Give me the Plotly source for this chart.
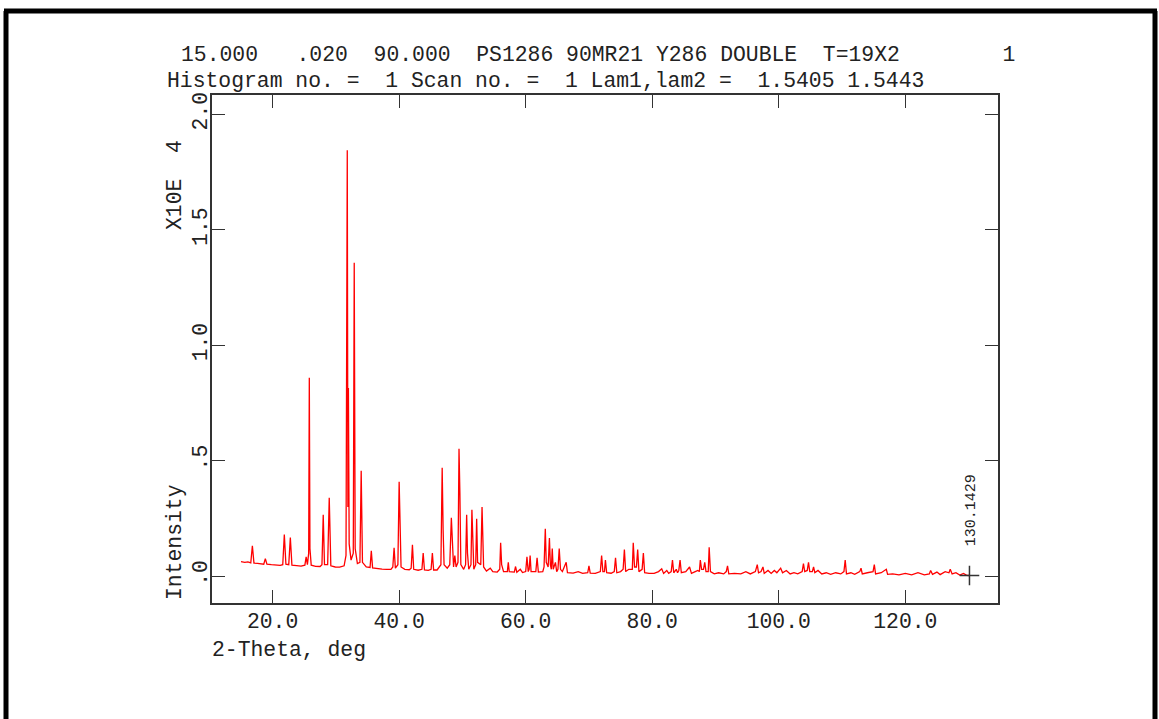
import plotly.graph_objects as go

# ---- data (intensity in units of 10^4 counts) ----
two_theta = [
    15.00, 15.6, 16.1, 16.55, 16.8, 17.05, 17.6, 18.2, 18.6, 18.85,
    19.1, 19.8, 20.5, 21.2, 21.6, 21.85, 22.1, 22.55, 22.8, 23.05,
    23.8, 24.5, 25.1, 25.3, 25.5, 25.7, 25.8, 25.9, 26.1, 26.8,
    27.5, 27.8, 28.0, 28.2, 28.7, 28.95, 29.2, 29.9, 30.6, 31.3,
    31.6, 31.8, 31.9, 31.98, 32.1, 32.4, 32.75, 32.9, 33.05, 33.4,
    33.8, 34.0, 34.2, 34.8, 35.4, 35.6, 35.8, 36.5, 37.3, 38.0,
    38.7, 39.0, 39.2, 39.4, 39.8, 40.0, 40.15, 40.3, 40.9, 41.6,
    41.9, 42.1, 42.3, 43.0, 43.6, 43.8, 44.0, 44.6, 45.05, 45.25,
    45.45, 46.0, 46.6, 46.8, 46.95, 47.1, 47.6, 48.0, 48.25, 48.4,
    48.6, 48.8, 49.0, 49.3, 49.46, 49.6, 49.75, 50.2, 50.5, 50.67,
    50.8, 51.0, 51.35, 51.5, 51.62, 51.8, 52.1, 52.25, 52.4, 52.9,
    53.1, 53.2, 53.35, 53.8, 54.4, 54.8, 55.5, 55.9, 56.04, 56.2,
    56.5, 57.1, 57.25, 57.4, 58.2, 58.4, 58.6, 59.15, 59.5, 60.0,
    60.2, 60.4, 60.55, 60.7, 60.85, 61.6, 61.8, 62.0, 62.7, 62.9,
    63.1, 63.25, 63.55, 63.75, 63.9, 64.05, 64.2, 64.35, 64.7, 64.9,
    65.1, 65.3, 65.5, 65.8, 66.4, 66.6, 67.5, 68.3, 69.0, 69.8,
    70.0, 70.2, 71.0, 71.8, 72.0, 72.2, 72.45, 72.6, 72.8, 73.5,
    74.0, 74.2, 74.4, 75.0, 75.4, 75.6, 75.8, 76.3, 76.85, 77.0,
    77.2, 77.5, 77.7, 77.9, 78.4, 78.6, 78.8, 79.5, 80.3, 81.0,
    81.5, 81.8, 82.3, 82.6, 83.0, 83.2, 83.4, 83.8, 84.0, 84.2,
    84.4, 84.6, 85.3, 85.9, 86.2, 86.8, 87.2, 87.45, 87.6, 87.8,
    88.1, 88.3, 88.5, 88.85, 89.0, 89.2, 89.8, 90.5, 91.3, 91.7,
    91.9, 92.1, 93.0, 94.0, 94.8, 95.5, 96.3, 96.6, 96.8, 97.2,
    97.5, 97.7, 98.3, 98.8, 99.3, 99.7, 100.3, 100.6, 101.2, 101.8,
    102.4, 103.0, 103.7, 103.9, 104.1, 104.5, 104.7, 104.9, 105.3, 105.5,
    105.7, 106.2, 106.8, 107.5, 108.2, 109.0, 109.8, 110.3, 110.5, 110.7,
    111.4, 112.0, 112.8, 113.0, 113.2, 114.0, 114.6, 114.9, 115.1, 115.3,
    116.2, 117.0, 117.2, 118.0, 119.0, 120.0, 121.0, 122.0, 123.0, 123.8,
    124.0, 124.3, 125.0, 125.5, 126.3, 126.9, 127.1, 127.4, 128.0, 128.6,
    129.2, 129.7, 130.14,
]
intensity = [
    0.063, 0.060, 0.062, 0.058, 0.132, 0.057, 0.056, 0.054, 0.052, 0.076,
    0.052, 0.050, 0.049, 0.047, 0.050, 0.180, 0.052, 0.050, 0.167, 0.048,
    0.046, 0.044, 0.048, 0.084, 0.050, 0.100, 0.859, 0.120, 0.048, 0.043,
    0.042, 0.050, 0.266, 0.050, 0.050, 0.340, 0.045, 0.040, 0.039, 0.045,
    0.090, 1.845, 0.300, 0.815, 0.140, 0.070, 0.100, 1.357, 0.120, 0.055,
    0.060, 0.457, 0.060, 0.040, 0.038, 0.110, 0.036, 0.033, 0.031, 0.030,
    0.030, 0.040, 0.123, 0.035, 0.050, 0.409, 0.150, 0.040, 0.030, 0.028,
    0.035, 0.136, 0.030, 0.026, 0.030, 0.100, 0.027, 0.025, 0.030, 0.100,
    0.027, 0.027, 0.050, 0.470, 0.200, 0.050, 0.035, 0.050, 0.253, 0.120,
    0.040, 0.089, 0.040, 0.060, 0.552, 0.360, 0.050, 0.030, 0.050, 0.266,
    0.100, 0.030, 0.050, 0.288, 0.150, 0.030, 0.050, 0.249, 0.060, 0.050,
    0.300, 0.180, 0.040, 0.022, 0.035, 0.020, 0.018, 0.030, 0.145, 0.050,
    0.020, 0.020, 0.060, 0.020, 0.018, 0.042, 0.017, 0.030, 0.016, 0.020,
    0.084, 0.020, 0.030, 0.089, 0.020, 0.020, 0.080, 0.018, 0.020, 0.040,
    0.205, 0.060, 0.040, 0.165, 0.050, 0.030, 0.120, 0.030, 0.060, 0.020,
    0.030, 0.120, 0.030, 0.020, 0.060, 0.015, 0.013, 0.020, 0.012, 0.015,
    0.045, 0.013, 0.012, 0.020, 0.090, 0.020, 0.020, 0.070, 0.015, 0.013,
    0.020, 0.080, 0.015, 0.020, 0.030, 0.115, 0.020, 0.030, 0.030, 0.145,
    0.040, 0.040, 0.115, 0.020, 0.030, 0.100, 0.015, 0.012, 0.012, 0.020,
    0.032, 0.012, 0.025, 0.012, 0.020, 0.070, 0.015, 0.030, 0.015, 0.025,
    0.070, 0.015, 0.020, 0.040, 0.012, 0.020, 0.025, 0.020, 0.070, 0.030,
    0.030, 0.060, 0.020, 0.020, 0.125, 0.020, 0.010, 0.015, 0.010, 0.020,
    0.045, 0.010, 0.012, 0.010, 0.020, 0.010, 0.020, 0.050, 0.015, 0.020,
    0.040, 0.012, 0.025, 0.012, 0.025, 0.015, 0.035, 0.015, 0.025, 0.010,
    0.015, 0.010, 0.020, 0.055, 0.020, 0.025, 0.060, 0.020, 0.020, 0.040,
    0.015, 0.025, 0.010, 0.015, 0.008, 0.015, 0.010, 0.020, 0.070, 0.010,
    0.015, 0.008, 0.020, 0.035, 0.010, 0.015, 0.020, 0.020, 0.050, 0.010,
    0.015, 0.030, 0.008, 0.010, 0.006, 0.012, 0.006, 0.015, 0.006, 0.010,
    0.025, 0.008, 0.018, 0.007, 0.020, 0.015, 0.030, 0.010, 0.015, 0.005,
    0.012, 0.004, 0.003,
]

x_tick_vals = [20, 40, 60, 80, 100, 120]
x_tick_text = ["20.0", "40.0", "60.0", "80.0", "100.0", "120.0"]
y_tick_vals = [0.0, 0.5, 1.0, 1.5, 2.0]
y_tick_text = [".0", ".5", "1.0", "1.5", "2.0"]

end_two_theta = 130.14
end_intensity = 0.003
end_label = "130.1429"

title_line1 = "15.000   .020  90.000  PS1286 90MR21 Y286 DOUBLE  T=19X2        1"
title_line2 = "Histogram no. =  1 Scan no. =  1 Lam1,lam2 =  1.5405 1.5443"
x_title = "2-Theta, deg"
y_title = "Intensity"
y_scale_label = "X10E  4"

# ---- layout geometry (pixels) ----
W, H = 1159, 719
L, R, T, B = 212, 998, 95, 603


def pxx(p):
    return (p - L) / (R - L)


def pxy(p):
    return (B - p) / (B - T)


mono = "Liberation Mono, Courier New, monospace"
ink = "#222222"
FS = 21.4

fig = go.Figure()
fig.add_trace(go.Scatter(
    x=two_theta, y=intensity, mode="lines",
    line=dict(color="#ff0000", width=1.3),
    hoverinfo="skip", showlegend=False,
))
fig.add_trace(go.Scatter(
    x=[end_two_theta], y=[end_intensity], mode="markers",
    marker=dict(symbol="cross-thin", size=14, color="#333333",
                line=dict(color="#333333", width=1.5)),
    hoverinfo="skip", showlegend=False,
))

axis_common = dict(
    showgrid=False, zeroline=False, showline=True, linecolor="#333333",
    linewidth=1.5, mirror="ticks", ticks="inside", ticklen=13,
    tickwidth=1.3, tickcolor="#333333",
    tickfont=dict(family=mono, size=FS, color=ink),
)

fig.update_layout(
    width=W, height=H,
    margin=dict(l=L, r=W - R, t=T, b=H - B, autoexpand=False),
    paper_bgcolor="white", plot_bgcolor="white",
    xaxis=dict(range=[10.42, 134.65], tickmode="array",
               tickvals=x_tick_vals, ticktext=x_tick_text,
               ticklabelstandoff=-2, **axis_common),
    yaxis=dict(range=[-0.116, 2.084], tickmode="array",
               tickvals=y_tick_vals, ticktext=y_tick_text,
               tickangle=-90, ticklabelstandoff=-5, **axis_common),
    showlegend=False,
)

ann = []
ann.append(dict(x=pxx(179), y=pxy(55), xref="paper", yref="paper",
                text=title_line1.replace(" ", "&nbsp;"), showarrow=False,
                xanchor="left", yanchor="middle",
                font=dict(family=mono, size=FS, color=ink)))
ann.append(dict(x=pxx(165), y=pxy(81), xref="paper", yref="paper",
                text=title_line2.replace(" ", "&nbsp;"), showarrow=False,
                xanchor="left", yanchor="middle",
                font=dict(family=mono, size=FS, color=ink)))
ann.append(dict(x=pxx(210), y=pxy(650), xref="paper", yref="paper",
                text=x_title.replace(" ", "&nbsp;"), showarrow=False,
                xanchor="left", yanchor="middle",
                font=dict(family=mono, size=FS, color=ink)))
ann.append(dict(x=pxx(175), y=pxy(602), xref="paper", yref="paper",
                text=y_title, showarrow=False, textangle=-90,
                xanchor="center", yanchor="bottom",
                font=dict(family=mono, size=FS, color=ink)))
ann.append(dict(x=pxx(175), y=pxy(232), xref="paper", yref="paper",
                text=y_scale_label.replace(" ", "&nbsp;"), showarrow=False,
                textangle=-90, xanchor="center", yanchor="bottom",
                font=dict(family=mono, size=FS, color=ink)))
ann.append(dict(x=end_two_theta, y=0.288, xref="x", yref="y",
                xshift=2, text=end_label, showarrow=False, textangle=-90,
                xanchor="center", yanchor="middle",
                font=dict(family=mono, size=15, color=ink)))
fig.update_layout(annotations=ann)

# outer thick frame (left, top, right)
frame = dict(type="line", xref="paper", yref="paper",
             line=dict(color="black", width=5))
fig.update_layout(shapes=[
    dict(frame, x0=pxx(6), x1=pxx(6), y0=pxy(11), y1=pxy(725)),
    dict(frame, x0=pxx(4), x1=pxx(1157), y0=pxy(11), y1=pxy(11)),
    dict(frame, x0=pxx(1155), x1=pxx(1155), y0=pxy(11), y1=pxy(725)),
])

fig.write_html("out.html",
               config={"displayModeBar": False},
               post_script="document.body.style.margin='0px';"
                           "document.body.style.padding='0px';")
